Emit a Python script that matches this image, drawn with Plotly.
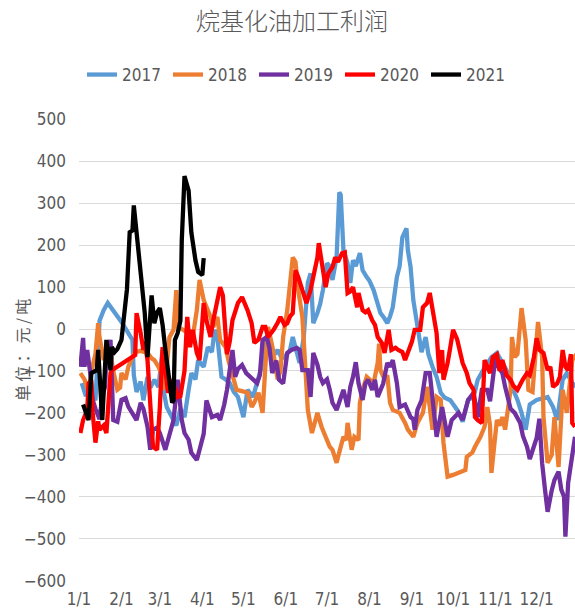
import plotly.graph_objects as go

# ---------------- data (month-day of observation, profit in 元/吨) ----------------
dates_2017 = ["01-03","01-06","01-09","01-13","01-16","01-19","01-22","01-27","02-01","02-06","02-09","02-10","02-12","02-15","02-17","02-20","02-22","02-25","02-28","03-03","03-04","03-06","03-10","03-13","03-16","03-19","03-22","03-24","03-27","03-29","04-02","04-05","04-08","04-10","04-12","04-15","04-18","04-21","04-24","04-27","05-01","05-04","05-08","05-11","05-15","05-18","05-22","05-24","05-26","05-29","05-31","06-04","06-06","06-09","06-11","06-14","06-17","06-19","06-21","06-24","06-26","06-28","07-01","07-03","07-05","07-08","07-10","07-11","07-13","07-16","07-18","07-20","07-22","07-25","07-27","07-30","08-01","08-04","08-06","08-09","08-12","08-14","08-16","08-18","08-21","08-23","08-25","08-28","08-29","08-31","09-02","09-05","09-07","09-08","09-11","09-13","09-16","09-19","09-22","09-25","09-29","10-04","10-08","10-12","10-16","10-19","10-23","10-27","10-29","11-02","11-06","11-09","11-13","11-17","11-20","11-23","11-26","12-01","12-06","12-09","12-13","12-16","12-20","12-23","12-27","12-30"]
profit_2017 = [-129,-160,-140,-170,20,45,62,40,17,-10,-26,-110,-150,-125,-170,-114,-140,-121,-138,-50,-152,-186,-210,-230,-190,-210,-145,-105,-120,-74,-90,-43,-55,-2,-20,-114,-120,-129,-150,-162,-210,-145,-162,-129,-81,-19,-50,-60,-50,-70,-67,-50,-19,-57,-81,-20,110,133,14,38,60,93,157,150,117,171,326,320,188,157,110,164,150,181,140,124,115,93,70,38,25,14,30,52,124,150,219,240,188,148,69,5,-43,-55,-19,-60,-90,-114,-152,-164,-170,-193,-221,-169,-162,-121,-98,-80,-67,-57,-80,-98,-138,-169,-200,-240,-180,-169,-165,-162,-186,-217,-121,-105,-129,-138]

dates_2018 = ["01-02","01-05","01-08","01-10","01-13","01-15","01-16","01-19","01-21","01-24","01-26","01-29","01-31","02-01","02-04","02-06","02-09","02-11","02-15","02-18","02-20","02-23","02-25","02-28","03-02","03-03","03-06","03-08","03-11","03-13","03-14","03-18","03-22","03-25","03-28","03-30","04-02","04-04","04-07","04-09","04-12","04-14","04-18","04-20","04-23","04-26","04-30","05-04","05-07","05-09","05-12","05-15","05-17","05-19","05-22","05-24","05-26","05-28","05-30","06-02","06-04","06-06","06-08","06-10","06-13","06-15","06-17","06-20","06-22","06-24","06-27","07-01","07-03","07-05","07-08","07-11","07-13","07-15","07-16","07-19","07-21","07-24","07-25","07-27","07-30","08-01","08-04","08-07","08-08","08-09","08-12","08-14","08-16","08-18","08-23","08-27","08-29","09-02","09-05","09-09","09-12","09-14","09-16","09-19","09-22","09-24","09-27","10-01","10-06","10-10","10-11","10-15","10-17","10-21","10-24","10-26","10-28","10-29","11-01","11-02","11-04","11-06","11-08","11-12","11-13","11-15","11-17","11-20","11-23","11-25","11-28","12-02","12-05","12-06","12-09","12-12","12-14","12-17","12-20","12-23","12-27","12-30"]
profit_2018 = [-105,-120,-150,-100,-60,14,-20,-74,-50,-55,-100,-145,-140,-105,-120,-90,-67,-55,-52,-55,-57,-70,-74,-90,-105,-145,-90,-20,-2,93,5,-2,-10,-19,45,117,69,55,29,5,29,-26,-43,-74,-114,-145,-148,-152,-186,-175,-152,-200,-90,5,-40,-81,-120,-100,-19,45,100,171,160,93,29,-81,-193,-248,-224,-200,-233,-264,-281,-288,-319,-281,-257,-265,-224,-288,-257,-265,-176,-145,-114,-120,-129,-81,-35,-98,-120,-110,-176,-193,-200,-224,-240,-257,-224,-200,-138,-186,-240,-162,-169,-271,-352,-348,-340,-336,-305,-295,-281,-257,-233,-186,-230,-343,-248,-217,-230,-210,-240,-145,-19,-67,-60,50,-26,-145,-150,17,-67,-210,-319,-300,-210,-329,-145,-200,-74,-60]

dates_2019 = ["01-02","01-04","01-05","01-07","01-09","01-11","01-13","01-16","01-18","01-20","01-21","01-24","01-26","01-29","02-01","02-04","02-06","02-09","02-12","02-15","02-17","02-20","02-22","02-24","02-27","03-01","03-05","03-07","03-11","03-14","03-16","03-17","03-19","03-22","03-24","03-28","03-30","04-02","04-04","04-08","04-12","04-14","04-17","04-19","04-23","04-25","04-27","04-30","05-03","05-06","05-09","05-11","05-13","05-15","05-18","05-20","05-22","05-25","05-27","05-30","06-02","06-05","06-09","06-11","06-13","06-17","06-19","06-21","06-24","06-26","06-28","07-01","07-03","07-05","07-08","07-11","07-13","07-16","07-18","07-20","07-22","07-24","07-27","07-29","07-31","08-03","08-05","08-07","08-11","08-14","08-16","08-18","08-21","08-23","08-27","08-31","09-02","09-03","09-05","09-08","09-11","09-14","09-16","09-19","09-23","09-25","09-27","09-30","10-05","10-08","10-12","10-16","10-19","10-22","10-26","10-28","11-01","11-03","11-06","11-08","11-12","11-15","11-19","11-21","11-24","11-26","11-29","12-01","12-03","12-05","12-07","12-09","12-12","12-14","12-17","12-19","12-21","12-22","12-24","12-27","12-29"]
profit_2019 = [-90,-21,-90,-50,-100,-169,-190,-215,-160,-138,-67,-26,-217,-221,-169,-165,-185,-200,-217,-176,-190,-233,-288,-240,-235,-248,-288,-264,-217,-121,-180,-217,-248,-264,-295,-312,-288,-250,-170,-210,-205,-217,-180,-145,-50,-114,-95,-86,-105,-114,-120,-129,-110,-26,-19,-45,-105,-75,-121,-130,-57,-50,-45,-50,-98,-98,-162,-57,-85,-114,-129,-120,-145,-176,-193,-162,-145,-186,-138,-114,-79,-129,-169,-130,-121,-145,-121,-162,-130,-81,-90,-74,-129,-186,-180,-210,-215,-240,-193,-170,-105,-105,-169,-257,-186,-220,-257,-217,-200,-217,-169,-152,-210,-145,-145,-172,-67,-90,-105,-138,-190,-200,-224,-255,-281,-310,-280,-260,-214,-320,-380,-436,-385,-360,-340,-383,-400,-495,-367,-310,-257]

dates_2020 = ["01-02","01-04","01-07","01-08","01-10","01-11","01-13","01-15","01-16","01-19","01-21","01-24","01-25","02-11","02-12","02-14","02-15","02-17","02-18","02-20","02-22","02-24","02-27","03-01","03-03","03-05","03-07","03-10","03-14","03-16","03-19","03-21","03-23","03-25","03-28","03-30","04-02","04-04","04-07","04-09","04-12","04-14","04-16","04-19","04-21","04-23","04-27","04-30","05-04","05-07","05-09","05-12","05-15","05-17","05-19","05-23","05-26","05-28","05-31","06-02","06-04","06-06","06-08","06-10","06-13","06-15","06-16","06-19","06-21","06-24","06-25","06-27","06-30","07-02","07-05","07-07","07-09","07-12","07-14","07-16","07-18","07-20","07-23","07-24","07-27","07-29","07-31","08-03","08-05","08-07","08-10","08-12","08-15","08-17","08-20","08-22","08-25","08-27","08-29","09-01","09-03","09-07","09-09","09-12","09-14","09-16","09-19","09-21","09-23","09-24","09-27","09-29","10-01","10-04","10-06","10-08","10-11","10-13","10-16","10-17","10-19","10-22","10-24","10-26","10-28","10-30","11-02","11-04","11-06","11-09","11-12","11-14","11-17","11-21","11-24","11-26","11-29","12-01","12-03","12-06","12-09","12-11","12-13","12-16","12-18","12-20","12-22","12-24","12-26","12-27","12-29"]
profit_2020 = [-248,-217,-193,-130,-121,-200,-271,-220,-240,-230,-248,-105,-98,-62,38,10,-10,-50,-30,-74,-169,-281,-288,-186,-43,-100,-152,-120,-162,-160,-100,29,-43,-2,-57,-74,62,21,-19,21,62,100,80,-60,-30,21,62,76,45,14,-33,-25,5,5,-19,-2,15,29,10,14,30,38,140,124,93,76,62,93,124,171,205,164,100,133,148,171,160,181,183,86,90,100,52,86,45,40,45,21,10,-19,-33,-57,-2,-50,-45,-50,-55,-74,-55,-30,-2,-2,52,62,86,52,-10,-105,-50,-121,-81,-43,-2,-25,-50,-81,-105,-129,-145,-210,-217,-224,-74,-90,-105,-67,-60,-100,-74,-110,-121,-135,-145,-120,-105,-110,-67,-22,-50,-57,-98,-90,-138,-130,-114,-50,-90,-98,-60,-224,-233]

dates_2021 = ["01-04","01-08","01-10","01-14","01-15","01-16","01-18","01-21","01-22","01-24","01-25","01-27","01-29","02-01","02-02","02-04","02-05","02-07","02-09","02-10","02-12","02-15","02-18","02-20","02-23","02-25","02-27","03-01","03-03","03-05","03-07","03-10","03-11","03-12","03-14","03-16","03-17","03-19","03-22","03-24","03-27","03-29","04-01","04-02"]
profit_2021 = [-180,-217,-105,-98,-50,-100,-217,-26,-57,-98,-43,-55,-48,-26,5,86,95,231,235,295,236,140,38,-67,80,14,40,50,10,-48,-105,-176,-170,-26,-10,20,210,365,330,230,164,136,129,169]

years = ["2017", "2018", "2019", "2020", "2021"]
colors = ["#5B9BD5", "#ED7D31", "#7030A0", "#FF0000", "#000000"]
series_dates = [dates_2017, dates_2018, dates_2019, dates_2020, dates_2021]
series_vals = [profit_2017, profit_2018, profit_2019, profit_2020, profit_2021]

month_ticks = ["01-01","02-01","03-01","04-01","05-01","06-01","07-01","08-01","09-01","10-01","11-01","12-01"]
month_labels = ["1/1","2/1","3/1","4/1","5/1","6/1","7/1","8/1","9/1","10/1","11/1","12/1"]

BASE_YEAR = "2021-"
NARROW = "Liberation Sans Narrow, DejaVu Sans Condensed, Roboto Condensed, Roboto, sans-serif"
GREY = "#595959"

fig = go.Figure()
for yr, col, ds, vs in zip(years, colors, series_dates, series_vals):
    fig.add_trace(go.Scatter(
        x=[BASE_YEAR + d for d in ds], y=vs, name=yr, mode="lines",
        line=dict(color=col, width=4.3),
    ))

fig.update_layout(
    width=575, height=615,
    margin=dict(l=79, r=0, t=119, b=34, autoexpand=False),
    paper_bgcolor="white", plot_bgcolor="white",
    title=dict(text="烷基化油加工利润", x=0.508, xref="container", xanchor="center",
               y=1 - 22 / 615, yref="container", yanchor="middle",
               font=dict(family="Noto Sans CJK SC", size=24, color=GREY, weight=300)),
    legend=dict(orientation="h", x=(82 - 79) / 496, xanchor="left", xref="paper",
                y=1 - 75 / 615, yanchor="middle", yref="container",
                font=dict(family=NARROW, size=17, color=GREY),
                entrywidth=41, itemwidth=30, tracegroupgap=0),
    showlegend=True,
)
fig.update_xaxes(
    type="date", range=[BASE_YEAR + "01-01", BASE_YEAR + "12-29"],
    tickmode="array", tickvals=[BASE_YEAR + t for t in month_ticks], ticktext=month_labels,
    showgrid=False, zeroline=False, showline=False, ticks="",
    tickfont=dict(family=NARROW, size=17, color=GREY), ticklabelstandoff=6,
)
fig.update_yaxes(
    range=[-601, 501], tickmode="linear", tick0=-600, dtick=100,
    showgrid=True, gridcolor="#D9D9D9", gridwidth=1, zeroline=False, showline=False,
    ticks="", tickfont=dict(family=NARROW, size=17, color=GREY), ticklabelstandoff=12,
)
fig.add_annotation(text="单\u2009位\u2009：\u2009元\u2009/\u2009吨", textangle=-90, showarrow=False,
                   xref="paper", yref="paper", x=(22 - 79) / 496, y=0.5,
                   xanchor="center", yanchor="middle",
                   font=dict(family="Noto Sans CJK SC", size=16, color=GREY))

fig.write_html("out.html", config={"displayModeBar": False},
               post_script="document.body.style.margin='0';document.body.style.overflow='hidden';")
